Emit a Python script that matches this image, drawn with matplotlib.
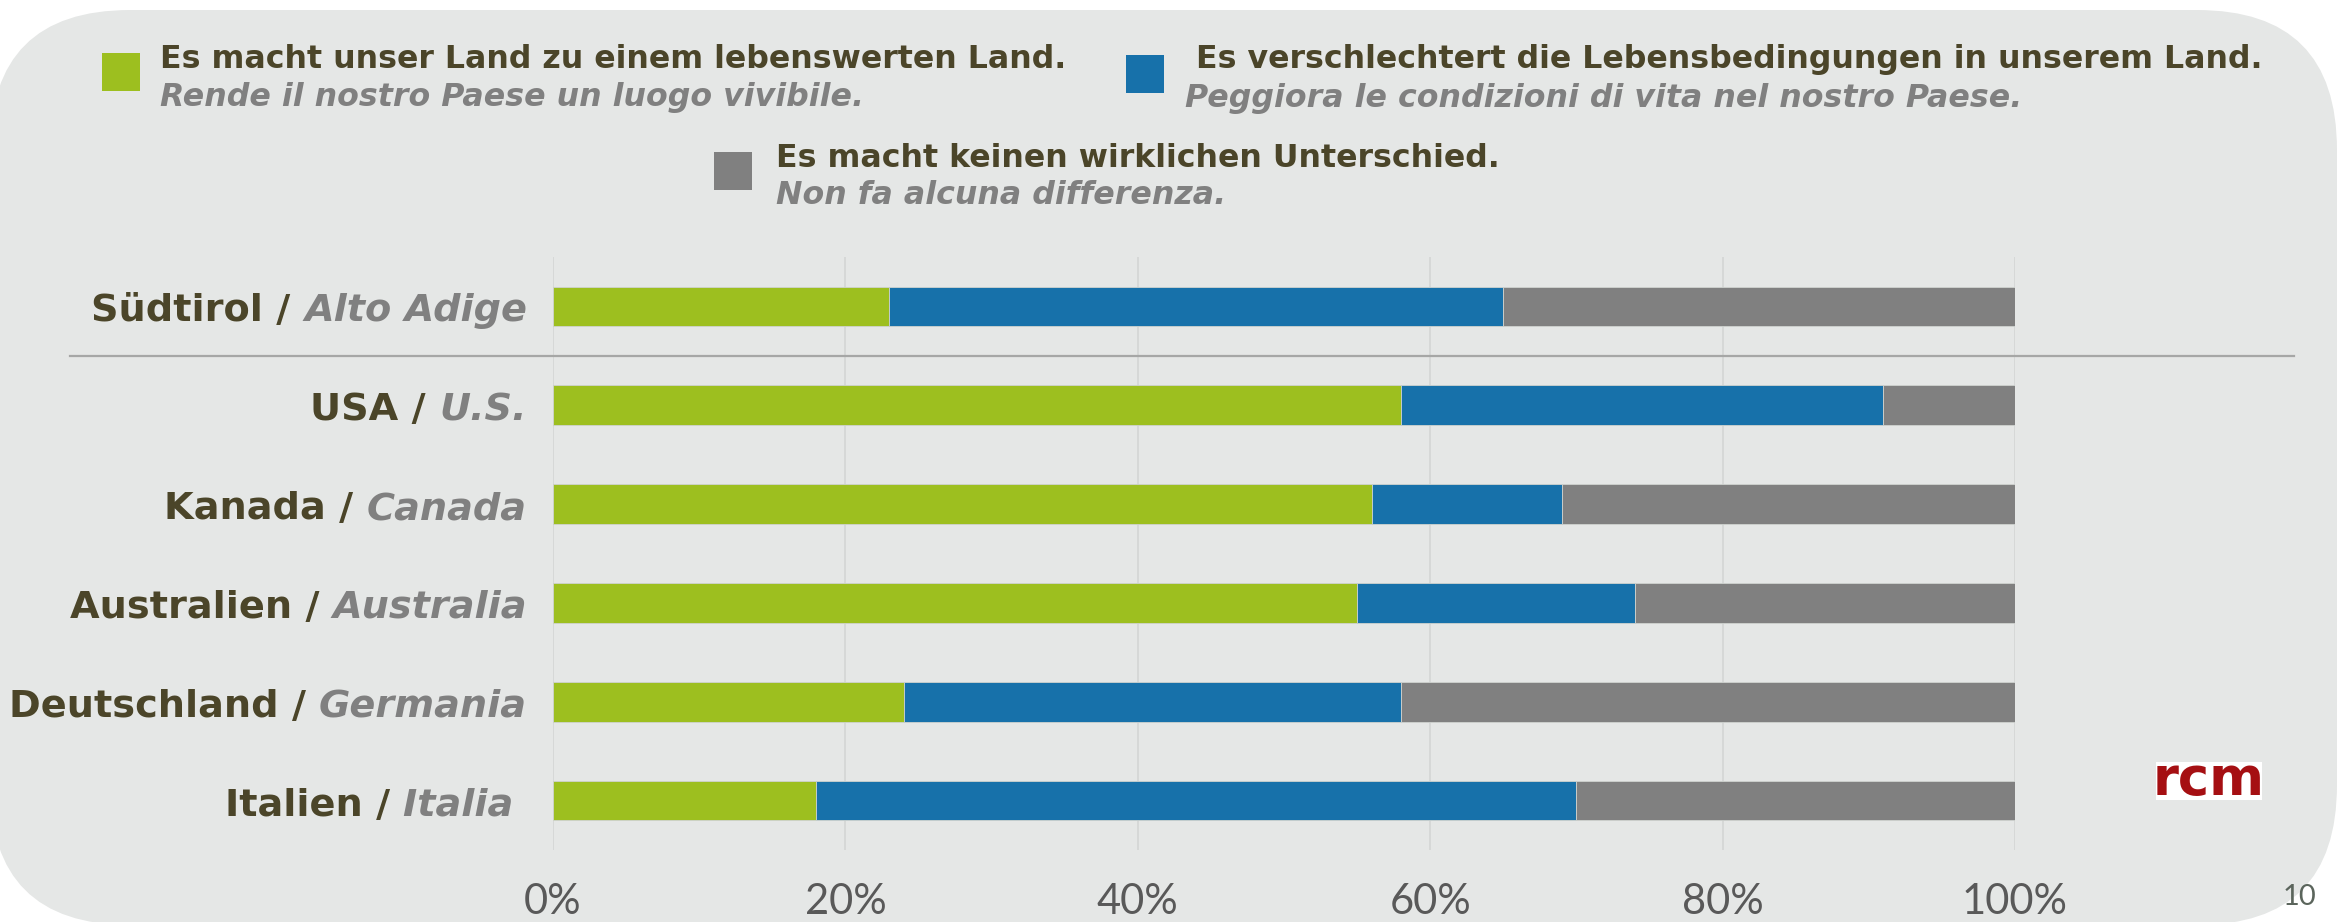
import matplotlib
matplotlib.use("Agg")
import matplotlib.pyplot as plt
import numpy as np
from matplotlib.patches import FancyBboxPatch, Rectangle
from matplotlib.transforms import IdentityTransform, blended_transform_factory, ScaledTranslation

# Daten
countries_de = ["Südtirol", "USA", "Kanada", "Australien", "Deutschland", "Italien"]
countries_it = ["Alto Adige", "U.S.", "Canada", "Australia", "Germania", "Italia "]
better = [23, 58, 56, 55, 24, 18]
worse = [42, 33, 13, 19, 34, 52]
no_diff = [35, 9, 31, 26, 42, 30]

legend_de = ["Es macht unser Land zu einem lebenswerten Land.",
             "Es verschlechtert die Lebensbedingungen in unserem Land.",
             "Es macht keinen wirklichen Unterschied."]
legend_it = ["Rende il nostro Paese un luogo vivibile.",
             "Peggiora le condizioni di vita nel nostro Paese.",
             "Non fa alcuna differenza."]

ticks = [0, 20, 40, 60, 80, 100]
tick_labels = ["0%", "20%", "40%", "60%", "80%", "100%"]
page_no = "10"

# Farben
colors = ["#9DBF1F", "#1771AA", "#808080"]
dark = "#4B4529"
grey_txt = "#808080"
bg = "#E5E7E6"

W, H = 2339, 922
fig = plt.figure(figsize=(W / 100, H / 100), dpi=100)
fig.patch.set_facecolor("white")
ident = IdentityTransform()


def ty(y):
    # Pixel von oben -> Pixel von unten
    return H - y


# Hintergrund (abgerundetes Rechteck)
box = FancyBboxPatch((-10, ty(925)), 2347, 915, boxstyle="round,pad=0,rounding_size=140",
                     transform=ident, facecolor=bg, edgecolor="none", zorder=0)
fig.add_artist(box)

ax = fig.add_axes([553 / W, 1 - 850 / H, (2015 - 553) / W, (850 - 257) / H])
ax.set_facecolor("none")

y = np.arange(len(countries_de))
b = np.array(better)
w = np.array(worse)
n = np.array(no_diff)
ax.barh(y, b, height=0.4, color=colors[0], edgecolor="#cfd3cf", linewidth=0.6, zorder=3)
ax.barh(y, w, left=b, height=0.4, color=colors[1], edgecolor="#cfd3cf", linewidth=0.6, zorder=3)
ax.barh(y, n, left=b + w, height=0.4, color=colors[2], edgecolor="#cfd3cf", linewidth=0.6, zorder=3)

ax.set_xlim(0, 100)
ax.set_ylim(len(countries_de) - 0.5, -0.5)
ax.set_xticks(ticks)
ax.set_xticklabels(tick_labels, fontsize=30, color="#595959", family=["Lato", "DejaVu Sans"])
ax.set_yticks([])
ax.tick_params(axis="x", length=0, pad=24)
ax.grid(axis="x", color="#D3D5D4", linewidth=1.2, zorder=0)
ax.set_axisbelow(True)
for s in ax.spines.values():
    s.set_visible(False)

# Trennlinie unter Südtirol
sep_tr = blended_transform_factory(ident, ax.transData)
ax.plot([70, 2294], [0.5, 0.5], transform=sep_tr, color="#A6A7A6", linewidth=1.6,
        clip_on=False, zorder=2)

# Kategorien (fett + kursiv)
fig.canvas.draw()
renderer = fig.canvas.get_renderer()
lab_tr = sep_tr + ScaledTranslation(0, -0.15, fig.dpi_scale_trans)
for i in range(len(countries_de)):
    t_it = ax.text(527, y[i], countries_it[i], transform=lab_tr, ha="right", va="baseline",
                   fontsize=27.5, fontweight="bold", style="italic", color=grey_txt,
                   family="DejaVu Sans")
    bb = t_it.get_window_extent(renderer)
    ax.text(bb.x0, y[i], countries_de[i] + " / ", transform=lab_tr, ha="right", va="baseline",
            fontsize=27.5, fontweight="bold", color=dark, family="DejaVu Sans")

# Legende
leg_sq = [(102, 53), (1126, 55), (714, 152)]
leg_de_pos = [(160, 68), (1196, 68), (776, 167)]
leg_it_pos = [(160, 106), (1185, 107), (776, 204)]
for i in range(3):
    sx, sy = leg_sq[i]
    fig.add_artist(Rectangle((sx, ty(sy + 38)), 38, 38, transform=ident,
                             facecolor=colors[i], edgecolor="none"))
    fig.text(leg_de_pos[i][0], ty(leg_de_pos[i][1]), legend_de[i], transform=ident,
             fontsize=22.8, fontweight="bold", color=dark, va="baseline")
    fig.text(leg_it_pos[i][0], ty(leg_it_pos[i][1]), legend_it[i], transform=ident,
             fontsize=22.8, fontweight="bold", style="italic", color=grey_txt, va="baseline")

# Logo
logo = Rectangle((2156, ty(800)), 106, 38, transform=ident, facecolor="white", edgecolor="none")
fig.add_artist(logo)
t_logo = fig.text(2153, ty(795), "rcm", transform=ident, fontsize=38, fontweight="bold",
                  color="#A50F12", va="baseline")
t_logo.set_clip_path(logo)

fig.text(2283, ty(905), page_no, transform=ident, fontsize=21, color="#5B655C",
         family=["Lato", "DejaVu Sans"], va="baseline")

fig.savefig("out.png", dpi=100)
